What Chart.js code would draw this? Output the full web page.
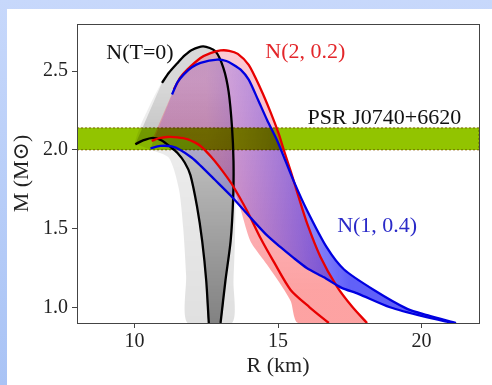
<!DOCTYPE html>
<html lang="en">
<head>
<meta charset="UTF-8">
<title>Mass-radius relations</title>
<script src="https://cdn.jsdelivr.net/npm/chart.js"></script>
<style>
  html, body { margin: 0; padding: 0; }
  body {
    width: 492px; height: 385px; position: relative; overflow: hidden;
    background: linear-gradient(180deg, #c7d8fb 0%, #a9c3f5 100%);
  }
  #panel { position: absolute; left: 7px; top: 9px; right: 0; bottom: 0; background: #fff; }
  #chart { position: absolute; left: 0; top: 0; }
</style>
</head>
<body>
<div id="panel"></div>
<canvas id="chart" width="492" height="385"></canvas>
<script>
// axis ticks
const xTicks = [10, 15, 20];
const yTicks = [1.0, 1.5, 2.0, 2.5];

// PSR J0740+6620 mass band (M_sun)
const psrMass = [2.00, 2.14];

// N(T=0) bounding curves
const blackUpperR = [10.96, 11.2, 11.49, 11.75, 12.0, 12.4, 12.82, 13.1, 13.28, 13.4, 13.45, 13.44, 13.35, 13.17, 13.0];
const blackUpperM = [2.426, 2.49, 2.55, 2.60, 2.635, 2.658, 2.627, 2.52, 2.37, 2.14, 1.93, 1.70, 1.42, 1.17, 0.9];
const blackLowerR = [10.03, 10.3, 10.65, 10.95, 11.25, 11.5, 11.75, 11.95, 12.18, 12.36, 12.5, 12.59];
const blackLowerM = [2.036, 2.06, 2.076, 2.06, 2.02, 1.98, 1.92, 1.84, 1.64, 1.42, 1.17, 0.9];

// N(2, 0.2) bounding curves
const redUpperR = [11.37, 11.6, 11.84, 12.3, 12.65, 13.0, 13.3, 13.6, 13.98, 14.39, 14.74, 15.03, 15.2, 15.45, 15.67, 16.02, 16.48, 17.06, 17.6, 18.1];
const redUpperM = [2.384, 2.46, 2.51, 2.584, 2.615, 2.632, 2.63, 2.61, 2.54, 2.39, 2.24, 2.10, 2.0, 1.86, 1.73, 1.53, 1.32, 1.13, 1.0, 0.9];
const redLowerR = [10.6, 10.85, 11.14, 11.5, 11.84, 12.3, 12.7, 13.05, 13.4, 13.93, 14.39, 14.85, 15.44, 16.1, 16.77];
const redLowerM = [2.057, 2.074, 2.082, 2.08, 2.068, 2.025, 1.95, 1.87, 1.78, 1.61, 1.44, 1.29, 1.11, 1.0, 0.9];

// N(1, 0.4) bounding curves
const blueUpperR = [11.31, 11.5, 11.72, 12.0, 12.3, 12.88, 13.2, 13.46, 13.7, 13.98, 14.3, 14.62, 14.97, 15.26, 15.55, 16.0, 16.7, 17.3, 18.34, 19.5, 20.2, 21.2];
const blueUpperM = [2.352, 2.43, 2.48, 2.525, 2.553, 2.574, 2.565, 2.54, 2.51, 2.447, 2.32, 2.19, 2.06, 1.93, 1.80, 1.62, 1.38, 1.24, 1.11, 0.99, 0.95, 0.9];
const blueLowerR = [10.56, 10.9, 11.3, 11.6, 12.0, 12.3, 12.8, 13.35, 14.04, 14.6, 15.1, 15.5, 16.0, 16.6, 17.2, 17.8, 18.9, 20.1, 21.1];
const blueLowerM = [2.01, 2.025, 2.022, 2.0, 1.95, 1.9, 1.81, 1.71, 1.57, 1.46, 1.38, 1.32, 1.25, 1.19, 1.125, 1.085, 1.0, 0.94, 0.9];

// outer edge of the grey N(T=0) sample cloud
const grayCloudR = [10.0, 10.2, 10.45, 10.66, 10.96, 11.49, 12.0, 12.4, 12.82, 13.1, 13.28, 13.42, 13.5, 13.52, 13.5, 13.45, 13.4, 11.85, 11.8, 11.7, 11.55, 11.2, 10.6];
const grayCloudM = [2.04, 2.15, 2.25, 2.33, 2.43, 2.55, 2.635, 2.66, 2.63, 2.52, 2.37, 2.14, 1.93, 1.7, 1.42, 1.17, 0.9, 0.9, 1.2, 1.5, 1.75, 1.95, 2.0];

// left edge of the red sample cloud below the lower red curve
const redCloudEdgeR = [13.4, 13.7, 14.04, 14.5, 15.0, 15.44, 15.7];
const redCloudEdgeM = [1.78, 1.62, 1.42, 1.3, 1.17, 1.04, 0.9];

const pts = (rs, ms) => rs.map((r, i) => ({x: r, y: ms[i]}));

const grayCorePts = pts(blackUpperR, blackUpperM).concat(pts(blackLowerR, blackLowerM).reverse());
const redFanPts = pts(redUpperR, redUpperM)
  .concat(pts(redCloudEdgeR, redCloudEdgeM).reverse())
  .concat(pts(redLowerR, redLowerM).filter(p => p.x < 13.4).reverse());
const blueFanPts = pts(blueUpperR, blueUpperM).concat(pts(blueLowerR, blueLowerM).reverse());
const bandPts = [
  {x: 8, y: psrMass[1]}, {x: 22, y: psrMass[1]},
  {x: 22, y: psrMass[0]}, {x: 8, y: psrMass[0]}
];

const BAND = 4;
const serif = '"Liberation Serif", "DejaVu Serif", serif';

// gradients so the sample clouds get denser the way the picture does
function vGrad(context, mTop, mBot, cTop, cBot) {
  const chart = context.chart;
  if (!chart.chartArea) return cBot;
  const y = chart.scales.y;
  const g = chart.ctx.createLinearGradient(0, y.getPixelForValue(mTop), 0, y.getPixelForValue(mBot));
  g.addColorStop(0, cTop);
  g.addColorStop(1, cBot);
  return g;
}
function hGrad(context, rLeft, rRight, cLeft, cRight) {
  const chart = context.chart;
  if (!chart.chartArea) return cRight;
  const x = chart.scales.x;
  const g = chart.ctx.createLinearGradient(x.getPixelForValue(rLeft), 0, x.getPixelForValue(rRight), 0);
  g.addColorStop(0, cLeft);
  g.addColorStop(1, cRight);
  return g;
}

const shape = {showLine: true, fill: 'shape', borderColor: 'rgba(0,0,0,0)', borderWidth: 0, pointRadius: 0, tension: 0.25};
const curve = {showLine: true, fill: false, pointRadius: 0, borderWidth: 2.3, tension: 0.25};

// text placed in data coordinates
const curveLabels = [
  {text: 'N(T=0)', r: 9.02, m: 2.576, color: '#111'},
  {text: 'N(2, 0.2)', r: 14.56, m: 2.582, color: '#e3262a'},
  {text: 'PSR J0740+6620', r: 16.03, m: 2.165, color: '#111'},
  {text: 'N(1, 0.4)', r: 17.06, m: 1.477, color: '#2a2ac8'}
];

const labelPlugin = {
  id: 'curveLabels',
  afterDatasetsDraw(chart) {
    const {ctx, scales: {x, y}, chartArea: a} = chart;
    ctx.save();
    ctx.strokeStyle = '#444';
    ctx.lineWidth = 1;
    ctx.strokeRect(Math.round(a.left) + 0.5, Math.round(a.top) + 0.5, Math.round(a.width), Math.round(a.height));
    ctx.font = '22px ' + serif;
    ctx.textBaseline = 'alphabetic';
    ctx.textAlign = 'left';
    curveLabels.forEach(l => {
      ctx.fillStyle = l.color;
      ctx.fillText(l.text, x.getPixelForValue(l.r), y.getPixelForValue(l.m));
    });
    ctx.restore();
  }
};

// band multiplies onto the clouds under it
const bandBlend = {
  id: 'bandBlend',
  afterDatasetDraw(chart, args) {
    const metas = chart.getSortedVisibleDatasetMetas();
    const pos = metas.findIndex(m => m.index === args.index);
    const next = metas[pos - 1];
    if (next && next.index === BAND) chart.ctx.globalCompositeOperation = 'multiply';
    if (args.index === BAND) chart.ctx.globalCompositeOperation = 'source-over';
  }
};

new Chart(document.getElementById('chart'), {
  type: 'scatter',
  data: {
    datasets: [
      Object.assign({}, shape, {data: pts(grayCloudR, grayCloudM), order: 10,
        backgroundColor: ctx => vGrad(ctx, 2.6, 0.9, 'rgba(0,0,0,0.05)', 'rgba(0,0,0,0.12)')}),
      Object.assign({}, shape, {data: grayCorePts, order: 9, tension: 0.2,
        backgroundColor: ctx => vGrad(ctx, 2.4, 0.9, 'rgba(0,0,0,0.1)', 'rgba(0,0,0,0.42)')}),
      Object.assign({}, shape, {data: redFanPts, order: 8,
        backgroundColor: ctx => vGrad(ctx, 2.6, 1.1, 'rgba(240,60,100,0.28)', 'rgba(250,50,50,0.45)')}),
      Object.assign({}, shape, {data: blueFanPts, order: 7,
        backgroundColor: ctx => hGrad(ctx, 12.5, 17.5, 'rgba(90,60,240,0.18)', 'rgba(30,30,245,0.7)')}),
      {data: bandPts, order: 6, showLine: true, fill: 'shape', tension: 0, pointRadius: 0,
        backgroundColor: '#92c400', borderColor: '#a87a3a', borderWidth: 1, borderDash: [2, 2]},
      Object.assign({}, curve, {data: pts(blackUpperR, blackUpperM), borderColor: '#000', order: 3}),
      Object.assign({}, curve, {data: pts(blackLowerR, blackLowerM), borderColor: '#000', order: 3}),
      Object.assign({}, curve, {data: pts(redUpperR, redUpperM), borderColor: '#e80000', order: 2}),
      Object.assign({}, curve, {data: pts(redLowerR, redLowerM), borderColor: '#e80000', order: 2}),
      Object.assign({}, curve, {data: pts(blueUpperR, blueUpperM), borderColor: '#0000e0', order: 1}),
      Object.assign({}, curve, {data: pts(blueLowerR, blueLowerM), borderColor: '#0000e0', order: 1})
    ]
  },
  options: {
    responsive: false,
    animation: false,
    devicePixelRatio: 1,
    layout: {padding: {left: 0, top: 24, right: 13, bottom: 0}},
    plugins: {legend: {display: false}, tooltip: {enabled: false}},
    scales: {
      x: {
        type: 'linear', min: 8, max: 22,
        afterBuildTicks: s => { s.ticks = xTicks.map(v => ({value: v})); },
        afterFit: s => { s.height = 62; },
        ticks: {color: '#222', font: {family: serif, size: 20}, padding: 2, callback: v => String(v)},
        grid: {display: true, drawOnChartArea: false, drawTicks: true, tickLength: 5, color: '#444'},
        border: {display: true, color: '#444'},
        title: {display: true, text: 'R (km)', color: '#222', font: {family: serif, size: 22}, padding: {top: 0, bottom: 6}}
      },
      y: {
        type: 'linear', min: 0.9, max: 2.8,
        afterBuildTicks: s => { s.ticks = yTicks.map(v => ({value: v})); },
        afterFit: s => { s.width = 77; },
        ticks: {color: '#222', font: {family: serif, size: 20}, padding: 4, callback: v => v.toFixed(1)},
        grid: {display: true, drawOnChartArea: false, drawTicks: true, tickLength: 5, color: '#444'},
        border: {display: true, color: '#444'},
        title: {display: true, text: 'M (M\u2299)', color: '#222', font: {family: serif, size: 22}, padding: {top: 9, bottom: 0}}
      }
    }
  },
  plugins: [bandBlend, labelPlugin]
});
</script>
</body>
</html>
